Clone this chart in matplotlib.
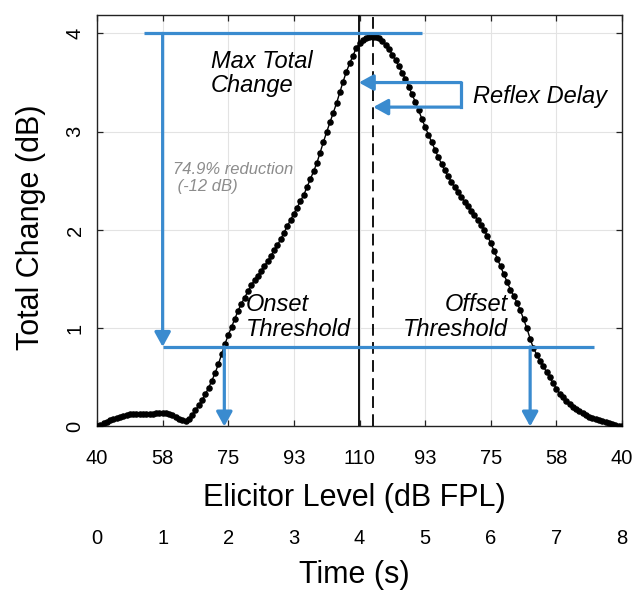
import numpy as np
import matplotlib
matplotlib.use("Agg")
import matplotlib.pyplot as plt

plt.rcParams["font.family"] = ["Liberation Sans", "DejaVu Sans"]

# Total acoustic-reflex change sampled every 0.05 s over the 8 s sweep
total_change_db = [
    0.000, 0.016, 0.031, 0.047, 0.061, 0.075, 0.088, 0.100, 0.110, 0.120,
    0.125, 0.128, 0.130, 0.130, 0.130, 0.130, 0.131, 0.132, 0.134, 0.136,
    0.140, 0.137, 0.128, 0.114, 0.097, 0.080, 0.062, 0.056, 0.080, 0.118,
    0.165, 0.216, 0.266, 0.327, 0.393, 0.467, 0.544, 0.636, 0.738, 0.840,
    0.930, 1.013, 1.095, 1.178, 1.250, 1.312, 1.374, 1.436, 1.490, 1.536,
    1.584, 1.632, 1.682, 1.737, 1.792, 1.847, 1.907, 1.973, 2.039, 2.102,
    2.164, 2.227, 2.290, 2.356, 2.436, 2.516, 2.596, 2.681, 2.788, 2.895,
    2.998, 3.096, 3.193, 3.290, 3.400, 3.510, 3.610, 3.695, 3.773, 3.850,
    3.900, 3.935, 3.953, 3.960, 3.962, 3.959, 3.950, 3.919, 3.883, 3.839,
    3.784, 3.726, 3.666, 3.602, 3.532, 3.459, 3.382, 3.303, 3.217, 3.132,
    3.047, 2.970, 2.895, 2.818, 2.741, 2.671, 2.606, 2.546, 2.489, 2.433,
    2.382, 2.335, 2.289, 2.242, 2.195, 2.149, 2.101, 2.054, 1.999, 1.937,
    1.868, 1.788, 1.708, 1.628, 1.548, 1.468, 1.393, 1.327, 1.260, 1.184,
    1.093, 1.000, 0.894, 0.797, 0.732, 0.669, 0.612, 0.555, 0.499, 0.442,
    0.385, 0.333, 0.298, 0.263, 0.228, 0.196, 0.177, 0.158, 0.138, 0.119,
    0.100, 0.090, 0.080, 0.070, 0.060, 0.050, 0.039, 0.028, 0.017, 0.006,
    0.000,
]
sweep_duration_s = 8.0

time_ticks_s = [0, 1, 2, 3, 4, 5, 6, 7, 8]
time_labels = ["0", "1", "2", "3", "4", "5", "6", "7", "8"]
elicitor_labels = ["40", "58", "75", "93", "110", "93", "75", "58", "40"]
change_ticks_db = [0, 1, 2, 3, 4]
change_labels = ["0", "1", "2", "3", "4"]

# Derived measures
max_change_db = 4.0
threshold_db = 0.81
onset_s = 1.94
offset_s = 6.6
stimulus_peak_s = 3.99
reflex_peak_s = 4.21

time_s = np.linspace(0.0, sweep_duration_s, len(total_change_db))

BLUE = "#3a8bcf"
GREY_TEXT = "#8c8c8c"
LW_BLUE = 2.3

fig = plt.figure(figsize=(6.32, 5.92), dpi=100)
ax = fig.add_axes([0.1535, 0.2796, 0.8307, 0.6955])
ax.set_xlim(0, sweep_duration_s)
ax.set_ylim(0, 4.19)

ax.grid(True, color="#e3e3e3", lw=0.8)
ax.set_axisbelow(True)
for s in ax.spines.values():
    s.set_linewidth(1.0)
    s.set_color("#222222")

ax.set_xticks(time_ticks_s, labels=elicitor_labels)
ax.set_yticks(change_ticks_db, labels=change_labels)
ax.tick_params(direction="in", length=4, width=0.9, top=True, right=True,
               labelsize=14.5, colors="#222222", labelcolor="black")
ax.tick_params(axis="x", pad=16)
ax.tick_params(axis="y", pad=9)
plt.setp(ax.get_yticklabels(), rotation=90, va="center")

# Response curve
ax.plot(time_s, total_change_db, "-o", color="black", lw=1.0, ms=3.7,
        zorder=4)

# Stimulus peak and reflex peak markers
ax.axvline(stimulus_peak_s, color="black", lw=1.3, zorder=3)
ax.axvline(reflex_peak_s, color="black", lw=1.3, ls=(0, (6.5, 3.5)),
           zorder=3)

arrow_style = dict(arrowstyle="-|>,head_length=0.58,head_width=0.32",
                   mutation_scale=15, color=BLUE, lw=LW_BLUE,
                   shrinkA=0, shrinkB=0)

# Max change level and drop to threshold level
ax.plot([0.715, 4.95], [max_change_db, max_change_db], color=BLUE,
        lw=LW_BLUE, solid_capstyle="butt", zorder=5)
ax.annotate("", xy=(1.0, threshold_db), xytext=(1.0, max_change_db),
            arrowprops=arrow_style, zorder=5)
ax.plot([1.0, 7.58], [threshold_db, threshold_db], color=BLUE,
        lw=LW_BLUE, solid_capstyle="butt", zorder=5)

# Onset / offset threshold arrows
ax.annotate("", xy=(onset_s, 0.0), xytext=(onset_s, threshold_db),
            arrowprops=arrow_style, zorder=5)
ax.annotate("", xy=(offset_s, 0.0), xytext=(offset_s, threshold_db),
            arrowprops=arrow_style, zorder=5)

# Reflex delay bracket
bx = 5.55
ax.plot([bx, bx], [3.5, 3.25], color=BLUE, lw=LW_BLUE,
        solid_capstyle="projecting", zorder=5)
ax.annotate("", xy=(stimulus_peak_s, 3.5), xytext=(bx, 3.5),
            arrowprops=arrow_style, zorder=5)
ax.annotate("", xy=(reflex_peak_s, 3.25), xytext=(bx, 3.25),
            arrowprops=arrow_style, zorder=5)

# Annotations (baseline refers to the last line of each block)
ital = dict(style="italic", fontsize=17, color="black", zorder=6)
ax.text(1.74, 3.40, "Max Total\nChange", ha="left", va="baseline",
        linespacing=1.1, **ital)
ax.text(5.73, 3.29, "Reflex Delay", ha="left", va="baseline", **ital)
ax.text(2.27, 0.925, "Onset\nThreshold", ha="left", va="baseline",
        linespacing=1.1, **ital)
ax.text(6.26, 0.925, "Offset\nThreshold", ha="right", va="baseline",
        multialignment="right", linespacing=1.1, **ital)
ax.text(1.16, 2.40, "74.9% reduction\n (-12 dB)", ha="left", va="baseline",
        style="italic", fontsize=12, color=GREY_TEXT, linespacing=1.15,
        zorder=6)

# Axis labels
ax.set_xlabel("Elicitor Level (dB FPL)", fontsize=22, labelpad=11)
ax.xaxis.label.set_x(0.49)
ax.set_ylabel("Total Change (dB)", fontsize=22, labelpad=14)
ax.yaxis.label.set_y(0.485)

# Secondary time axis under the elicitor-level axis
sec = ax.secondary_xaxis(-0.237)
sec.set_xticks(time_ticks_s, labels=time_labels)
sec.tick_params(length=0, pad=3.5, labelsize=14.5)
for s in sec.spines.values():
    s.set_visible(False)
sec.set_xlabel("Time (s)", fontsize=22, labelpad=9)
sec.xaxis.label.set_x(0.49)

fig.savefig("out.png", dpi=100, facecolor="white")
